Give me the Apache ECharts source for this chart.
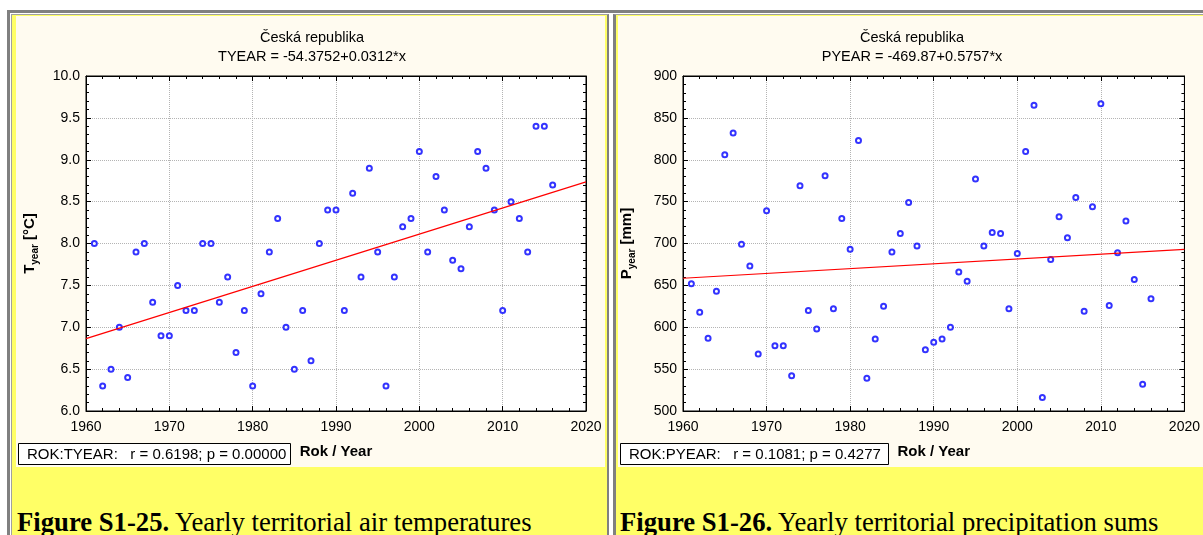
<!DOCTYPE html>
<html>
<head>
<meta charset="utf-8">
<script src="https://cdn.jsdelivr.net/npm/echarts@6/dist/echarts.min.js"></script>
<style>
  body { margin: 0; background: #fff; width: 1203px; height: 535px; overflow: hidden; position: relative; }
  .frame { position: absolute; left: 7px; top: 10px; width: 1300px; height: 600px;
           border-top: 3px solid #808080; border-left: 3px solid #808080; }
  .cell { position: absolute; top: 14px; height: 600px; background: #ffff66; }
  #cellL { left: 11px; width: 595px; border-left: 1px solid #a0a0a0; border-top: 1px solid #a0a0a0;
           border-right: 2px solid #808080; }
  #cellR { left: 613px; width: 700px; border-left: 3px solid #808080; border-top: 1px solid #a0a0a0; }
  .paper { position: absolute; top: 16px; height: 451px; background: #fffbf0; }
  .caption { position: absolute; top: 509px; font-family: "Liberation Serif", "Times New Roman", serif;
             font-size: 26.7px; line-height: 1; color: #000; white-space: nowrap; }
  .caption b { font-weight: bold; }
  #chart { position: absolute; left: 0; top: 0; width: 1203px; height: 535px; }
</style>
</head>
<body>
<div class="frame"></div>
<div class="cell" id="cellL"></div>
<div class="cell" id="cellR"></div>
<div class="paper" style="left:16px;width:589px"></div>
<div class="paper" style="left:618px;width:600px"></div>
<div class="caption" style="left:17px"><b>Figure S1-25.</b> Yearly territorial air temperatures</div>
<div class="caption" style="left:620px"><b>Figure S1-26.</b> Yearly territorial precipitation sums</div>
<div id="chart"></div>
<script>
const FONT = '"Liberation Sans", Arial, sans-serif'

const years = [1961, 1962, 1963, 1964, 1965, 1966, 1967, 1968, 1969, 1970,
  1971, 1972, 1973, 1974, 1975, 1976, 1977, 1978, 1979, 1980,
  1981, 1982, 1983, 1984, 1985, 1986, 1987, 1988, 1989, 1990,
  1991, 1992, 1993, 1994, 1995, 1996, 1997, 1998, 1999, 2000,
  2001, 2002, 2003, 2004, 2005, 2006, 2007, 2008, 2009, 2010,
  2011, 2012, 2013, 2014, 2015, 2016]

// yearly mean temperature [°C]
const tYear = [8.0, 6.3, 6.5, 7.0, 6.4, 7.9, 8.0, 7.3, 6.9, 6.9,
  7.5, 7.2, 7.2, 8.0, 8.0, 7.3, 7.6, 6.7, 7.2, 6.3,
  7.4, 7.9, 8.3, 7.0, 6.5, 7.2, 6.6, 8.0, 8.4, 8.4,
  7.2, 8.6, 7.6, 8.9, 7.9, 6.3, 7.6, 8.2, 8.3, 9.1,
  7.9, 8.8, 8.4, 7.8, 7.7, 8.2, 9.1, 8.9, 8.4, 7.2,
  8.5, 8.3, 7.9, 9.4, 9.4, 8.7]

// yearly precipitation [mm]
const pYear = [652, 618, 587, 643, 806, 832, 699, 673, 568, 739,
  578, 578, 542, 769, 620, 598, 781, 622, 730, 693,
  823, 539, 586, 625, 690, 712, 749, 697, 573, 582,
  586, 600, 666, 655, 777, 697, 713, 712, 622, 688,
  810, 865, 516, 681, 732, 707, 755, 619, 744, 867,
  626, 689, 727, 657, 532, 634]

// regression lines (end points)
const trendYears = [1960, 2020]
const tTrend = [6.865, 8.735]
const pTrend = [658.5, 693.0]

const chart = echarts.init(document.getElementById('chart'))

function xAxis(g, pos, main) {
  return {
    type: 'value', gridIndex: g, position: pos, min: 1960, max: 2020, interval: 10,
    axisLine: { show: true, onZero: false, lineStyle: { color: '#000', width: 1 } },
    axisTick: { show: true, inside: true, length: 5, lineStyle: { color: '#000' } },
    minorTick: { show: true, splitNumber: 5, length: 3, lineStyle: { color: '#000' } },
    axisLabel: { show: main, color: '#000', fontSize: 14, fontFamily: FONT, margin: 9, formatter: v => String(v) },
    splitLine: { show: main, lineStyle: { type: 'dotted', color: '#b4b4b4' } },
    name: main ? 'Rok / Year' : '',
    nameLocation: 'middle',
    nameGap: 33,
    nameMoveOverlap: false,
    nameTextStyle: { color: '#000', fontSize: 15, fontWeight: 'bold', fontFamily: FONT }
  }
}

function yAxis(g, pos, main, min, max, step, name, fmt) {
  return {
    type: 'value', gridIndex: g, position: pos, min: min, max: max, interval: step,
    axisLine: { show: true, onZero: false, lineStyle: { color: '#000', width: 1 } },
    axisTick: { show: true, inside: true, length: 5, lineStyle: { color: '#000' } },
    minorTick: { show: true, splitNumber: 5, length: 3, lineStyle: { color: '#000' } },
    axisLabel: { show: main, color: '#000', fontSize: 14, fontFamily: FONT, margin: 6, formatter: fmt },
    splitLine: { show: main, lineStyle: { type: 'dotted', color: '#b4b4b4' } },
    name: main ? name : '',
    nameLocation: 'middle',
    nameRotate: 90,
    nameGap: 46,
    nameMoveOverlap: false,
    nameTextStyle: {
      color: '#000', fontFamily: FONT,
      rich: {
        t: { fontSize: 15, fontWeight: 'bold', fontFamily: FONT, lineHeight: 20, color: '#000' },
        s: { fontSize: 10, fontWeight: 'bold', fontFamily: FONT, lineHeight: 10, verticalAlign: 'bottom', color: '#000' }
      }
    }
  }
}

function titleText(x, y, text) {
  return { type: 'text', x: x, y: y, silent: true,
    style: { text: text, fontSize: 14.5, fontFamily: FONT, fill: '#000', align: 'center', verticalAlign: 'middle' } }
}

function statBox(x, w, text) {
  return { type: 'group', silent: true, children: [
    { type: 'rect', shape: { x: x + 0.5, y: 443.5, width: w, height: 21 },
      style: { fill: '#fff', stroke: '#000', lineWidth: 1 } },
    { type: 'text', x: x + 9, y: 454.5,
      style: { text: text, fontSize: 15, fontFamily: FONT, fill: '#000', align: 'left', verticalAlign: 'middle' } }
  ] }
}

chart.setOption({
  animation: false,
  grid: [
    { left: 86, top: 76, width: 500, height: 335, show: true, backgroundColor: '#fff', borderColor: '#000', borderWidth: 1 },
    { left: 683, top: 76, width: 503, height: 335, show: true, backgroundColor: '#fff', borderColor: '#000', borderWidth: 1 }
  ],
  xAxis: [xAxis(0, 'bottom', true), xAxis(0, 'top', false), xAxis(1, 'bottom', true), xAxis(1, 'top', false)],
  yAxis: [
    yAxis(0, 'left', true, 6, 10, 0.5, '{t|T}{s|year}{t| [°C]}', v => v.toFixed(1)),
    yAxis(0, 'right', false, 6, 10, 0.5, ''),
    yAxis(1, 'left', true, 500, 900, 50, '{t|P}{s|year}{t| [mm]}', v => String(v)),
    yAxis(1, 'right', false, 500, 900, 50, '')
  ],
  graphic: [
    titleText(312, 38, 'Česká republika'),
    titleText(312, 57, 'TYEAR = -54.3752+0.0312*x'),
    titleText(912, 38, 'Česká republika'),
    titleText(912, 57, 'PYEAR = -469.87+0.5757*x'),
    statBox(18, 272, 'ROK:TYEAR:   r = 0.6198; p = 0.00000'),
    statBox(620, 268, 'ROK:PYEAR:   r = 0.1081; p = 0.4277')
  ],
  series: [
    { type: 'line', xAxisIndex: 0, yAxisIndex: 0, showSymbol: false, silent: true,
      data: trendYears.map((x, i) => [x, tTrend[i]]),
      lineStyle: { color: '#ff0000', width: 1.2 } },
    { type: 'scatter', xAxisIndex: 0, yAxisIndex: 0, symbol: 'emptyCircle', symbolSize: 5,
      data: years.map((x, i) => [x, tYear[i]]),
      itemStyle: { color: '#0000ff', borderWidth: 1.3 } },
    { type: 'line', xAxisIndex: 2, yAxisIndex: 2, showSymbol: false, silent: true,
      data: trendYears.map((x, i) => [x, pTrend[i]]),
      lineStyle: { color: '#ff0000', width: 1.2 } },
    { type: 'scatter', xAxisIndex: 2, yAxisIndex: 2, symbol: 'emptyCircle', symbolSize: 5,
      data: years.map((x, i) => [x, pYear[i]]),
      itemStyle: { color: '#0000ff', borderWidth: 1.3 } }
  ]
})
</script>
</body>
</html>
